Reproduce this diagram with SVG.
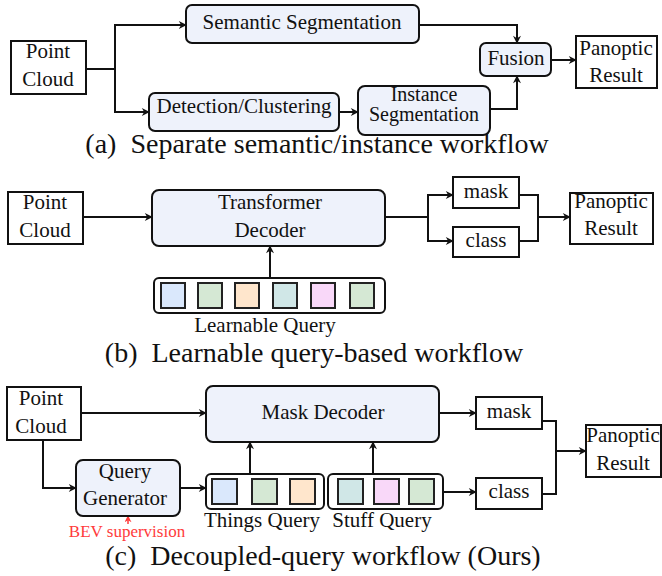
<svg xmlns="http://www.w3.org/2000/svg" width="662" height="576" viewBox="0 0 662 576">
<defs>
<style>
text{font-family:"Liberation Serif","Times New Roman",serif;fill:#111;}
.t{font-size:21px;text-anchor:middle;}
.ts{font-size:20px;text-anchor:middle;}
.cap{font-size:28px;text-anchor:middle;white-space:pre;}
.red{font-size:17px;fill:#ff3b3b;text-anchor:middle;}
.box{fill:#fff;stroke:#111;stroke-width:2;}
.rbox{fill:#eef2fb;stroke:#111;stroke-width:2;}
.cont{fill:#fff;stroke:#111;stroke-width:2;}
.sq{stroke:#222;stroke-width:2;}
.c1{fill:#dae8fc;}.c2{fill:#d5e8d4;}.c3{fill:#ffe6cc;}.c4{fill:#d0e7e7;}.c5{fill:#f9d8f9;}
.ln{fill:none;stroke:#111;stroke-width:2;}
.ar{marker-end:url(#ah);}
</style>
<marker id="ah" viewBox="0 0 10 10" refX="9" refY="5" markerWidth="9" markerHeight="8" markerUnits="userSpaceOnUse" orient="auto">
<path d="M0,0 L10,5 L0,10 L3,5 z" fill="#111"/>
</marker>
<marker id="ahr" viewBox="0 0 10 10" refX="9" refY="5" markerWidth="8" markerHeight="7" markerUnits="userSpaceOnUse" orient="auto">
<path d="M0,0 L10,5 L0,10 L3,5 z" fill="#ff3b3b"/>
</marker>
</defs>

<g id="connectors">
<path class="ln ar" d="M86,69 H115 V25 H186"/>
<path class="ln ar" d="M115,69 V112 H149"/>
<path class="ln ar" d="M419,25 H517 V43"/>
<path class="ln ar" d="M339,112 H358"/>
<path class="ln ar" d="M490,109 H517 V76"/>
<path class="ln ar" d="M551,60 H576"/>
<path class="ln ar" d="M83,217 H152"/>
<path class="ln ar" d="M270,278 V246"/>
<path class="ln ar" d="M385,217 H428 V195 H453"/>
<path class="ln ar" d="M428,217 V241 H453"/>
<path class="ln" d="M519,195 H538 V241 H519"/>
<path class="ln ar" d="M538,217 H570"/>
<path class="ln ar" d="M81,413 H206"/>
<path class="ln ar" d="M43,440 V488 H76"/>
<path class="ln ar" d="M180,488 H206"/>
<path class="ln ar" d="M250,474 V442"/>
<path class="ln ar" d="M373,474 V442"/>
<path class="ln ar" d="M439,413 H476"/>
<path class="ln ar" d="M443,492 H476"/>
<path class="ln" d="M542,421 H556 V494 H542"/>
<path class="ln ar" d="M556,451 H586"/>
<path d="M128,524 V516" fill="none" stroke="#ff3b3b" stroke-width="1.5" marker-end="url(#ahr)"/>
</g>

<g id="a-pointcloud">
<rect class="box" x="11" y="41" width="75" height="53"/>
<text class="t" x="48" y="58">Point</text>
<text class="t" x="48" y="86">Cloud</text>
</g>
<g id="a-semantic">
<rect class="rbox" x="186" y="5" width="233" height="38" rx="6"/>
<text class="t" x="302" y="29">Semantic Segmentation</text>
</g>
<g id="a-detection">
<rect class="rbox" x="149" y="93" width="190" height="38" rx="6"/>
<text class="t" x="244" y="113">Detection/Clustering</text>
</g>
<g id="a-instance">
<rect class="rbox" x="358" y="86" width="132" height="49" rx="7"/>
<text class="ts" x="424" y="101">Instance</text>
<text class="ts" x="424" y="121">Segmentation</text>
</g>
<g id="a-fusion">
<rect class="rbox" x="480" y="43" width="71" height="33" rx="6"/>
<text class="t" x="516" y="65">Fusion</text>
</g>
<g id="a-panoptic">
<rect class="box" x="576" y="36" width="81" height="52"/>
<text class="t" x="616" y="55">Panoptic</text>
<text class="t" x="616" y="82">Result</text>
</g>
<text class="cap" x="317" y="153">(a)  Separate semantic/instance workflow</text>

<g id="b-pointcloud">
<rect class="box" x="8" y="192" width="75" height="52"/>
<text class="t" x="45" y="209">Point</text>
<text class="t" x="45" y="237">Cloud</text>
</g>
<g id="b-transformer">
<rect class="rbox" x="152" y="190" width="233" height="56" rx="7"/>
<text class="t" x="270" y="209">Transformer</text>
<text class="t" x="270" y="237">Decoder</text>
</g>
<g id="b-queries">
<rect class="cont" x="154" y="278" width="231" height="35" rx="5"/>
<rect class="sq c1" x="161" y="283" width="24" height="25"/>
<rect class="sq c2" x="198" y="283" width="24" height="25"/>
<rect class="sq c3" x="235" y="283" width="24" height="25"/>
<rect class="sq c4" x="273" y="283" width="24" height="25"/>
<rect class="sq c5" x="311" y="283" width="24" height="25"/>
<rect class="sq c2" x="350" y="283" width="24" height="25"/>
<text class="t" x="265" y="332">Learnable Query</text>
</g>
<g id="b-mask">
<rect class="box" x="453" y="177" width="66" height="31"/>
<text class="t" x="486" y="198">mask</text>
</g>
<g id="b-class">
<rect class="box" x="453" y="227" width="66" height="30"/>
<text class="t" x="486" y="247">class</text>
</g>
<g id="b-panoptic">
<rect class="box" x="570" y="193" width="83" height="51"/>
<text class="t" x="611" y="208">Panoptic</text>
<text class="t" x="611" y="235">Result</text>
</g>
<text class="cap" x="314" y="362">(b)  Learnable query-based workflow</text>

<g id="c-pointcloud">
<rect class="box" x="7" y="387" width="74" height="53"/>
<text class="t" x="41" y="405">Point</text>
<text class="t" x="41" y="433">Cloud</text>
</g>
<g id="c-maskdecoder">
<rect class="rbox" x="206" y="386" width="233" height="56" rx="7"/>
<text class="t" x="323" y="419">Mask Decoder</text>
</g>
<g id="c-querygen">
<rect class="rbox" x="76" y="460" width="104" height="56" rx="7"/>
<text class="t" x="125" y="478">Query</text>
<text class="t" x="125" y="505">Generator</text>
</g>
<g id="c-things">
<rect class="cont" x="206" y="474" width="118" height="35" rx="5"/>
<rect class="sq c1" x="212" y="479" width="25" height="25"/>
<rect class="sq c2" x="252" y="479" width="25" height="25"/>
<rect class="sq c3" x="290" y="479" width="25" height="25"/>
<text class="t" x="262" y="527">Things Query</text>
</g>
<g id="c-stuff">
<rect class="cont" x="328" y="474" width="115" height="35" rx="5"/>
<rect class="sq c4" x="338" y="479" width="25" height="25"/>
<rect class="sq c5" x="374" y="479" width="25" height="25"/>
<rect class="sq c2" x="409" y="479" width="25" height="25"/>
<text class="t" x="382" y="527">Stuff Query</text>
</g>
<g id="c-bev">
<text class="red" x="127" y="537">BEV supervision</text>
</g>
<g id="c-mask">
<rect class="box" x="476" y="397" width="66" height="32"/>
<text class="t" x="509" y="418">mask</text>
</g>
<g id="c-class">
<rect class="box" x="476" y="478" width="66" height="31"/>
<text class="t" x="509" y="498">class</text>
</g>
<g id="c-panoptic">
<rect class="box" x="586" y="425" width="75" height="52"/>
<text class="t" x="623" y="442">Panoptic</text>
<text class="t" x="623" y="470">Result</text>
</g>
<text class="cap" x="323" y="565">(c)  Decoupled-query workflow (Ours)</text>
</svg>
